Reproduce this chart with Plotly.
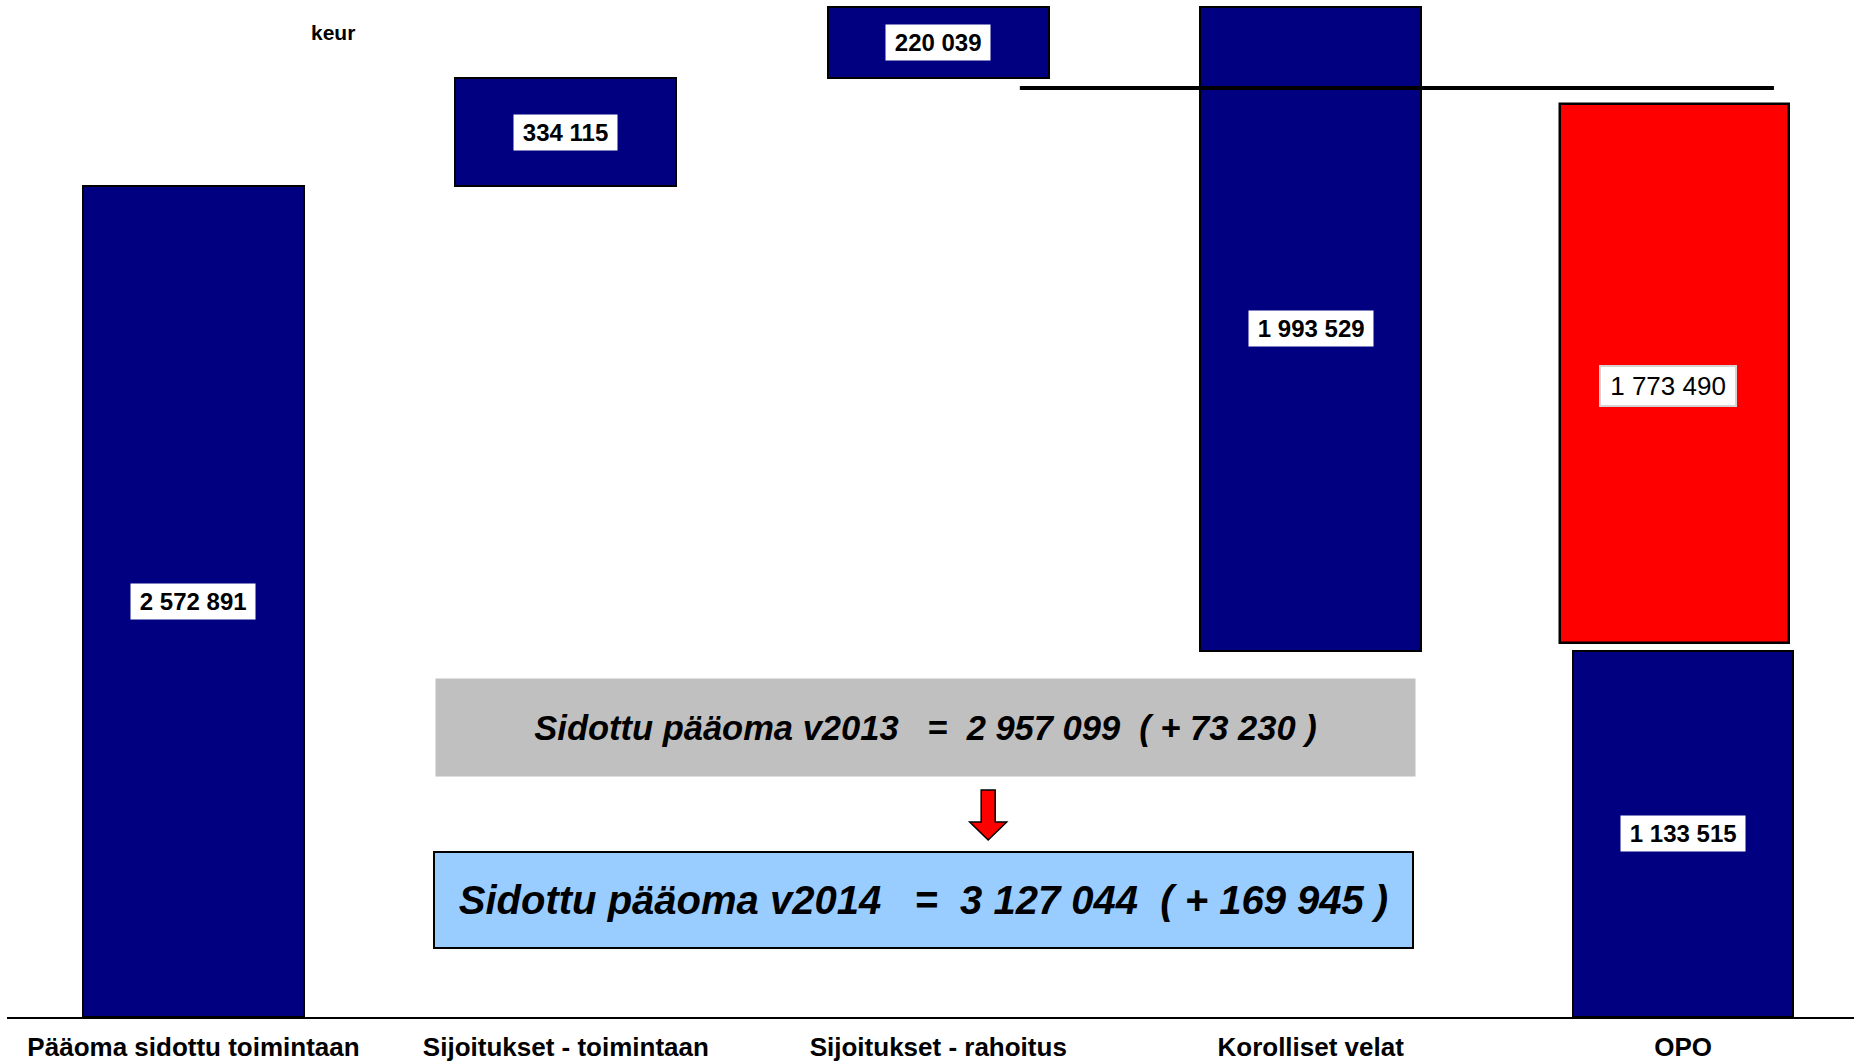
import plotly.graph_objects as go

# data (keur)
categories = [
    "Pääoma sidottu toimintaan",
    "Sijoitukset - toimintaan",
    "Sijoitukset - rahoitus",
    "Korolliset velat",
    "OPO",
]
step_values = [2572891, 334115, 220039, 1993529, 1133515]
opo_red_value = 1773490
opo_red_drawn = [1158000, 2827000]  # bottom / top of the red block as drawn
level_2013 = 2876500
total_2013, change_2013 = 2957099, 73230
total_2014, change_2014 = 3127044, 169945


def fmt(v):
    return f"{v:,}".replace(",", " ")


NAVY = "#000080"
FONT = "Liberation Sans, Arial, sans-serif"
BAR_W = 0.593
Y_MAX = 3148700

# waterfall bases
bases = [0]
bases.append(step_values[0])
bases.append(step_values[0] + step_values[1])
top_4 = bases[2] + step_values[2]
bases.append(top_4 - step_values[3])
bases.append(0)

fig = go.Figure()

fig.add_trace(
    go.Bar(
        x=list(range(5)),
        y=step_values,
        base=bases,
        width=BAR_W,
        marker=dict(color=NAVY, line=dict(color="black", width=2)),
        showlegend=False,
        hoverinfo="skip",
    )
)

fig.add_trace(
    go.Bar(
        x=[4],
        y=[opo_red_drawn[1] - opo_red_drawn[0]],
        base=[opo_red_drawn[0]],
        width=0.615,
        offset=-0.330,
        marker=dict(color="#FF0000", line=dict(color="black", width=2.5)),
        showlegend=False,
        hoverinfo="skip",
    )
)

# reference line for last year's level
fig.add_trace(
    go.Scatter(
        x=[2.219, 4.244],
        y=[level_2013, level_2013],
        mode="lines",
        line=dict(color="black", width=4),
        showlegend=False,
        hoverinfo="skip",
    )
)

# value labels in white boxes
ts = "\u2009"
for i, v in enumerate(step_values):
    fig.add_annotation(
        x=i,
        y=bases[i] + v / 2,
        text=f"<b>{ts}{fmt(v)}{ts}</b>",
        showarrow=False,
        bgcolor="white",
        borderpad=4,
        font=dict(family=FONT, size=24, color="black"),
    )

fig.add_annotation(
    x=4,
    y=(opo_red_drawn[0] + opo_red_drawn[1]) / 2,
    xshift=-15,
    yshift=-13,
    text=f"{ts}{fmt(opo_red_value)}{ts}",
    showarrow=False,
    bgcolor="white",
    bordercolor="#d4d4d4",
    borderwidth=2,
    borderpad=4,
    font=dict(family=FONT, size=26, color="black"),
)

sp = "\u00a0"
text_2013 = (
    f"<b><i>Sidottu pääoma v2013{sp*3}={sp*2}{fmt(total_2013)}{sp*2}({sp}+{sp}{fmt(change_2013)}{sp})</i></b>"
)
text_2014 = (
    f"<b><i>Sidottu pääoma v2014{sp*3}={sp*2}{fmt(total_2014)}{sp*2}({sp}+{sp}{fmt(change_2014)}{sp})</i></b>"
)

fig.add_annotation(
    x=1.966,
    y=896300,
    text=text_2013,
    showarrow=False,
    width=979,
    height=97,
    bgcolor="#C0C0C0",
    borderpad=0,
    font=dict(family=FONT, size=34.5, color="black"),
)

fig.add_annotation(
    x=1.960,
    y=362200,
    text=text_2014,
    showarrow=False,
    width=977,
    height=94,
    bgcolor="#99CCFF",
    bordercolor="black",
    borderwidth=2,
    borderpad=0,
    font=dict(family=FONT, size=40, color="black"),
)

# red block arrow between the boxes
ax, hw, sw = 2.134, 0.0497, 0.0188
y_top, y_neck, y_tip = 702800, 603700, 548000
fig.add_shape(
    type="path",
    xref="x",
    yref="y",
    path=(
        f"M {ax - sw},{y_top} L {ax + sw},{y_top} L {ax + sw},{y_neck} "
        f"L {ax + hw},{y_neck} L {ax},{y_tip} L {ax - hw},{y_neck} "
        f"L {ax - sw},{y_neck} Z"
    ),
    fillcolor="#FF0000",
    line=dict(color="black", width=1.5),
)

fig.add_annotation(
    x=0.374,
    y=3047000,
    text="<b>keur</b>",
    showarrow=False,
    font=dict(family=FONT, size=21, color="black"),
)

fig.update_layout(
    width=1854,
    height=1061,
    margin=dict(l=7, r=0, t=0, b=44),
    plot_bgcolor="white",
    paper_bgcolor="white",
    barmode="overlay",
    bargap=0,
)
fig.update_xaxes(
    range=[-0.5008, 4.459],
    tickvals=list(range(5)),
    ticktext=[f"<b>{c}</b>" for c in categories],
    tickfont=dict(family=FONT, size=26, color="black"),
    showgrid=False,
    zeroline=False,
    showline=True,
    linecolor="black",
    linewidth=2,
    ticks="",
    ticklabelstandoff=6,
)
fig.update_yaxes(range=[0, Y_MAX], visible=False, showgrid=False)

fig.write_html(
    "out.html",
    config={"displayModeBar": False},
    post_script="document.body.style.margin='0';",
)
